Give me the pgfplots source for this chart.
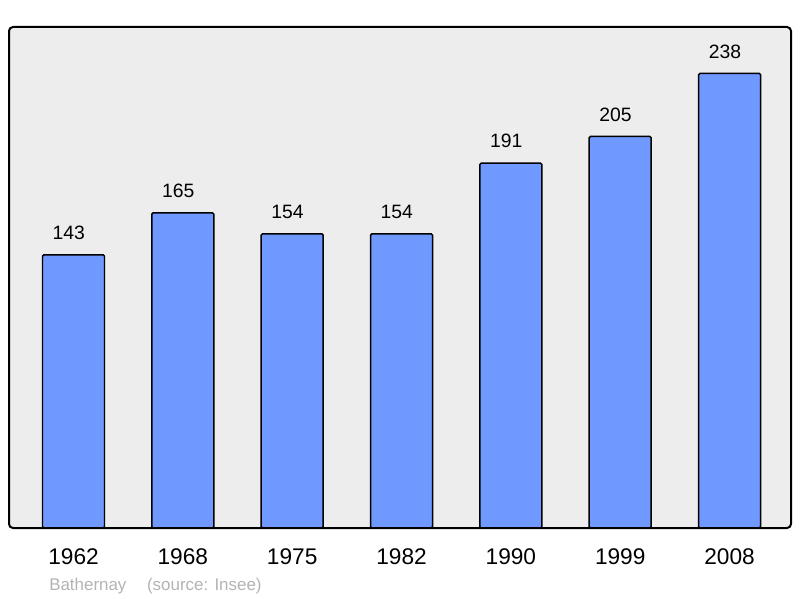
\documentclass[border=0pt]{standalone}
\usepackage{fontspec}
\setmainfont{Liberation Sans}
\usepackage{pgfplots}
\pgfplotsset{compat=1.18}
\definecolor{barblue}{HTML}{7099FF}
\definecolor{bgc}{HTML}{EDEDED}
\definecolor{foot}{HTML}{B3B3B3}
\begin{document}
\begin{tikzpicture}
\begin{axis}[
  scale only axis, width=586.5pt, height=375.75pt,
  xmin=-0.59, xmax=6.562, ymin=0, ymax=262.3,
  /pgf/number format/assume math mode=true,
  axis line style={draw=none},
  axis background/.style={fill=bgc, rounded corners=3pt},
  major tick length=0pt,
  ytick=\empty,
  xtick={0,1,2,3,4,5,6},
  xticklabels={1962,1968,1975,1982,1990,1999,2008},
  xticklabel style={font=\fontsize{17}{20}\selectfont, anchor=base, yshift=-27pt},
  ybar, bar width=46.5pt,
  clip=false,
  nodes near coords,
  nodes near coords style={font=\fontsize{14.5}{17}\selectfont, anchor=center, yshift=16.5pt, xshift=-3.5pt, text=black},
  after end axis/.code={
    \draw[line width=1.5pt, rounded corners=3pt] (rel axis cs:0,0) rectangle (rel axis cs:1,1);
  },
]
\addplot[fill=barblue, draw=black, line width=1.1pt, rounded corners=1pt] coordinates {
  (0,143) (1,165) (2,154) (3,154) (4,191) (5,205) (6,238)
};
\end{axis}
\node[anchor=base west, text=foot, font=\fontsize{12.7}{15}\selectfont, inner sep=0pt]
  at ([shift={(30pt,-46.5pt)}]current axis.south west) {Bathernay\hspace{15.5pt}(source: Insee)};
\pgfresetboundingbox
\path ([shift={(-6.75pt,-52.5pt)}]current axis.south west) rectangle ([shift={(6.75pt,20.25pt)}]current axis.north east);
\end{tikzpicture}
\end{document}
